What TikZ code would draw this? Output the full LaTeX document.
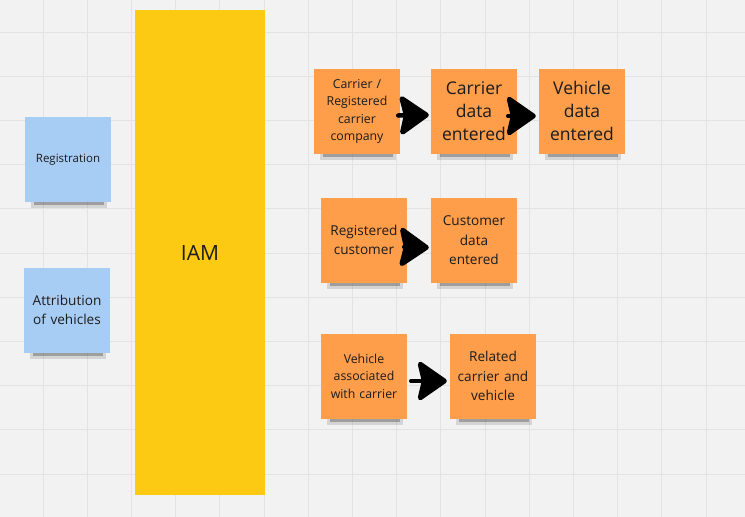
\documentclass[tikz,border=0pt]{standalone}
\usepackage{fontspec}
\setmainfont{Open Sans}
\usetikzlibrary{arrows.meta}

\definecolor{boardbg}{HTML}{F2F2F2}
\definecolor{boardgrid}{HTML}{E3E3E3}
\definecolor{iamyellow}{HTML}{FCCA13}
\definecolor{stickyblue}{HTML}{A8CDF4}
\definecolor{stickyorange}{HTML}{FE9D4A}
\definecolor{inkc}{HTML}{1C1C1C}

\tikzset{
  sticky/.style={minimum width=84pt, minimum height=85pt, inner sep=2pt,
    text width=82pt, align=center, text=inkc},
  bluenote/.style={sticky, fill=stickyblue},
  orangenote/.style={sticky, fill=stickyorange},
  smalltxt/.style={font=\fontsize{12.3}{17.5}\selectfont},
  midtxt/.style={font=\fontsize{13.6}{19.5}\selectfont},
  bigtxt/.style={font=\fontsize{17.5}{23}\selectfont},
  flow/.style={line width=4.5pt, line cap=round,
    -{Stealth[length=32pt,width=44pt,inset=5pt,round,line width=5pt]}},
}

\begin{document}
\begin{tikzpicture}[x=1pt, y=-1pt]
  \useasboundingbox (0,0) rectangle (745,517);
  % board
  \fill[boardbg] (0,0) rectangle (745,517);
  \begin{scope}
    \clip (0,0) rectangle (745,517);
    \foreach \k in {0,...,16}
      \draw[boardgrid, line width=1pt] ({43+44.2*\k},0) -- ({43+44.2*\k},517);
    \foreach \k in {0,...,11}
      \draw[boardgrid, line width=1pt] (0,{32+44.2*\k}) -- (745,{32+44.2*\k});
  \end{scope}

  % IAM
  \node[fill=iamyellow, minimum width=130pt, minimum height=485pt, text=inkc,
    font=\fontsize{21}{24}\selectfont] (iam) at (200,252.5) {IAM};

  % left stickies
  \node[bluenote, font=\fontsize{11.5}{15}\selectfont] (reg) at (68,159.5) {Registration};
  \node[bluenote, midtxt] (attr) at (67,310) {Attribution\\of vehicles};

  % carrier row
  \node[orangenote, smalltxt] (carreg) at (357,111.5) {Carrier /\\Registered\\carrier\\company};
  \node[orangenote, bigtxt] (cde) at (474,111) {Carrier\\data\\entered};
  \node[orangenote, bigtxt] (vde) at (582,111) {Vehicle\\data\\entered};

  % customer row
  \node[orangenote, midtxt] (regcust) at (364,240) {Registered\\customer};
  \node[orangenote, midtxt] (custde) at (474,240.5) {Customer\\data\\entered};

  % vehicle row
  \node[orangenote, smalltxt] (vehass) at (364,376) {Vehicle\\associated\\with carrier};
  \node[orangenote, midtxt] (relcv) at (493,376) {Related\\carrier and\\vehicle};

  % shadows under the stickies
  \foreach \n in {reg,attr,carreg,cde,vde,regcust,custde,vehass,relcv} {
    \fill[black, opacity=.12] ([xshift=6pt]\n.south west) rectangle ([xshift=-4pt,yshift=-6pt]\n.south east);
    \fill[black, opacity=.25] ([xshift=9pt]\n.south west) rectangle ([xshift=-7pt,yshift=-3pt]\n.south east);
  }

  % arrows
  \draw[flow] ([xshift=-2pt,yshift=-4pt]carreg.east) -- ([xshift=-2pt,yshift=-4pt]cde.west);
  \draw[flow] ([xshift=-9pt,yshift=-5pt]cde.east) -- ([xshift=-3pt,yshift=-5pt]vde.west);
  \draw[flow] ([xshift=-3pt,yshift=-7pt]regcust.east) -- ([xshift=-2pt,yshift=-7pt]custde.west);
  \draw[flow] ([xshift=4pt,yshift=-5pt]vehass.east) -- ([xshift=-3pt,yshift=-5pt]relcv.west);
\end{tikzpicture}
\end{document}
